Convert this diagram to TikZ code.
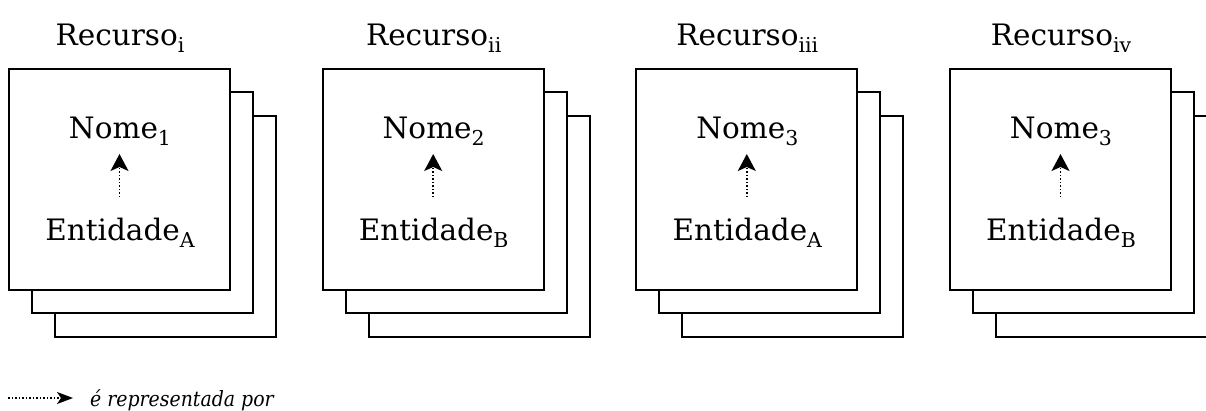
\documentclass[tikz,border=0pt]{standalone}
\usepackage{fontspec}
\setmainfont{DejaVu Serif}
\usetikzlibrary{arrows.meta}
\newcommand\mysub[1]{\raisebox{-7pt}{\fontsize{20.5}{21}\selectfont #1}}
\tikzset{
  sheet/.style={draw=black, fill=white, line width=1.8pt},
  bigtext/.style={anchor=base, inner sep=0pt, font=\fontsize{29.5}{31}\selectfont},
  repr/.style={dotted, line width=1.5pt, -{Stealth[length=17pt, width=18pt, inset=4pt]}},
  legarrow/.style={dotted, line width=1.5pt, -{Stealth[length=16pt, width=12pt, inset=4pt]}},
}
\begin{document}
\begin{tikzpicture}[x=1pt,y=-1pt]
\useasboundingbox (0,0) rectangle (1206,410);
\clip (0,0) rectangle (1206,410);
\foreach \dx/\k/\r/\n/\e in {9/1/i/1/A, 322.7/2/ii/2/B, 636.3/3/iii/3/A, 950/4/iv/3/B}{
  \draw[sheet] (\dx+46,116) rectangle (\dx+267,337);
  \draw[sheet] (\dx+23,92) rectangle (\dx+244,313);
  \draw[sheet] (\dx,69) rectangle (\dx+221,290);
  \node[bigtext] (t\k) at (\dx+111,45) {Recurso\mysub{\r}};
  \node[bigtext] (n\k) at (\dx+111,138) {Nome\mysub{\n}};
  \node[bigtext] (e\k) at (\dx+111,240) {Entidade\mysub{\e}};
  \coordinate (a\k) at (\dx+110.5,197);
  \coordinate (b\k) at (\dx+110.5,154);
  \draw[repr] (a\k) -- (b\k);
}
\coordinate (l0) at (8,398);
\coordinate (l1) at (73,398);
\draw[legarrow] (l0) -- (l1);
\node[anchor=base west, inner sep=0pt] (leg) at (90,406) {\scalebox{0.9}[1]{\fontsize{21}{22}\selectfont\itshape é representada por}};
\end{tikzpicture}
\end{document}
